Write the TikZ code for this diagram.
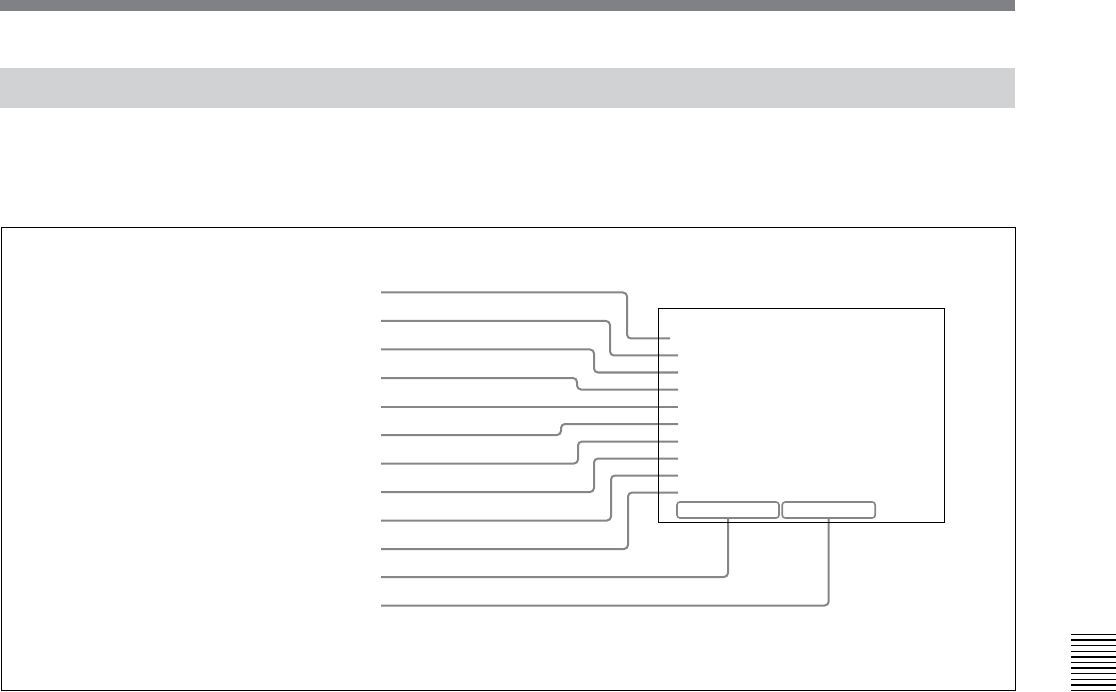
\documentclass[tikz,border=0pt]{standalone}
\usepackage{xcolor}
\usetikzlibrary{positioning,calc}
\definecolor{leadgray}{HTML}{858688}
\definecolor{bargray}{HTML}{808185}
\definecolor{bandgray}{HTML}{D1D2D4}
\tikzset{
  lead/.style={line width=2pt,leadgray,rounded corners=4pt},
  panel/.style={rectangle,draw=black,line width=1pt,minimum width=286pt,minimum height=214pt,inner sep=0pt},
  keybox/.style={rectangle,draw=leadgray,line width=1.6pt,rounded corners=3pt,minimum height=16pt,inner sep=0pt},
  frame/.style={draw=black,line width=1pt},
  tabline/.style={line width=1.3pt,black}
}
\begin{document}
\begin{tikzpicture}[x=1pt,y=-1pt]
  \useasboundingbox (0,0) rectangle (1116,692);
  \fill[bargray] (0,0) rectangle (1015,11);
  \fill[bandgray] (0,68) rectangle (1015,108);
  \draw[frame] (1,228) rectangle (1015,690);
  % left ends
  \coordinate (l1) at (381,292.5);
  \coordinate (l2) at (381,321);
  \coordinate (l3) at (381,349.5);
  \coordinate (l4) at (381,378);
  \coordinate (l5) at (381,406.5);
  \coordinate (l6) at (381,435);
  \coordinate (l7) at (381,463.5);
  \coordinate (l8) at (381,492);
  \coordinate (l9) at (381,520.5);
  \coordinate (l10) at (381,549);
  \coordinate (l11) at (381,577);
  \coordinate (l12) at (381,605.5);
  % right ends
  \coordinate (r1) at (670,338.5);
  \coordinate (r2) at (678,355.5);
  \coordinate (r3) at (678,372.5);
  \coordinate (r4) at (678,389.5);
  \coordinate (r5) at (678,406.5);
  \coordinate (r6) at (678,424);
  \coordinate (r7) at (678,441.5);
  \coordinate (r8) at (678,458.5);
  \coordinate (r9) at (678,475.5);
  \coordinate (r10) at (678,492.5);
  \node[keybox,minimum width=102pt] (k1) at (728,510) {};
  \node[keybox,minimum width=93pt] (k2) at (828.7,510) {};
  \draw[lead] (l1) -- ($(l1)+(246,0)$) |- (r1);
  \draw[lead] (l2) -- ($(l2)+(229,0)$) |- (r2);
  \draw[lead] (l3) -- ($(l3)+(213,0)$) |- (r3);
  \draw[lead] (l4) -- ($(l4)+(196,0)$) |- (r4);
  \draw[lead] (l5) -- (r5);
  \draw[lead] (l6) -- ($(l6)+(180,0)$) |- (r6);
  \draw[lead] (l7) -- ($(l7)+(197,0)$) |- (r7);
  \draw[lead] (l8) -- ($(l8)+(213,0)$) |- (r8);
  \draw[lead] (l9) -- ($(l9)+(230,0)$) |- (r9);
  \draw[lead] (l10) -- ($(l10)+(247,0)$) |- (r10);
  \draw[lead] (l11) -| (k1.south);
  \draw[lead] (l12) -| (k2.south);
  \node[panel] (scr) at (801,415.5) {};
  \foreach \i in {0,...,10}
    \draw[tabline] (1071,634.5+\i*5.6) -- (1116,634.5+\i*5.6);
\end{tikzpicture}
\end{document}
